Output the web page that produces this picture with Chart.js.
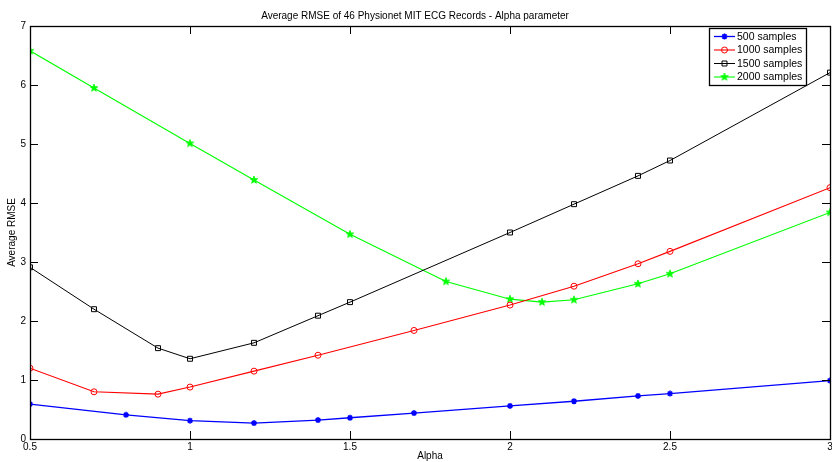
<!DOCTYPE html>
<html>
<head>
<meta charset="utf-8">
<script src="https://cdn.jsdelivr.net/npm/chart.js@4/dist/chart.umd.min.js"></script>
<style>
  html, body { margin: 0; padding: 0; background: #fff; }
  canvas { display: block; }
</style>
</head>
<body>
<canvas id="rmseChart" width="832" height="462"></canvas>
<script>
// values
const alpha500 = [0.5, 0.8, 1.0, 1.2, 1.4, 1.5, 1.7, 2.0, 2.2, 2.4, 2.5, 3.0];
const rmse500 = [0.59, 0.41, 0.31, 0.27, 0.32, 0.36, 0.44, 0.56, 0.64, 0.73, 0.77, 0.99];

const alpha1000 = [0.5, 0.7, 0.9, 1.0, 1.2, 1.4, 1.7, 2.0, 2.2, 2.4, 2.5, 3.0];
const rmse1000 = [1.20, 0.80, 0.76, 0.88, 1.15, 1.42, 1.84, 2.27, 2.59, 2.97, 3.18, 4.26];

const alpha1500 = [0.5, 0.7, 0.9, 1.0, 1.2, 1.4, 1.5, 2.0, 2.2, 2.4, 2.5, 3.0];
const rmse1500 = [2.91, 2.20, 1.54, 1.36, 1.63, 2.09, 2.32, 3.50, 3.98, 4.46, 4.72, 6.21];

const alpha2000 = [0.5, 0.7, 1.0, 1.2, 1.5, 1.8, 2.0, 2.1, 2.2, 2.4, 2.5, 3.0];
const rmse2000 = [6.58, 5.95, 5.01, 4.39, 3.47, 2.67, 2.37, 2.32, 2.36, 2.63, 2.80, 3.84];

const seriesLabels = ['500 samples', '1000 samples', '1500 samples', '2000 samples'];
const xTicks = [0.5, 1, 1.5, 2, 2.5, 3];
const yTicks = [0, 1, 2, 3, 4, 5, 6, 7];

const FONT = 'Liberation Sans, Arial, Helvetica, sans-serif';

// matlab style pentagram marker
function makePentagram(color, r) {
  const size = Math.ceil(r * 2 + 2);
  const c = document.createElement('canvas');
  c.width = size; c.height = size;
  const g = c.getContext('2d');
  const cx = size / 2, cy = size / 2, inner = r * 0.42;
  g.beginPath();
  for (let i = 0; i < 10; i++) {
    const rad = i % 2 === 0 ? r : inner;
    const a = -Math.PI / 2 + i * Math.PI / 5;
    const px = cx + rad * Math.cos(a), py = cy + rad * Math.sin(a);
    if (i === 0) g.moveTo(px, py); else g.lineTo(px, py);
  }
  g.closePath();
  g.fillStyle = color;
  g.fill();
  g.strokeStyle = color;
  g.lineWidth = 0.8;
  g.stroke();
  return c;
}
const pentagram = makePentagram('#00ff00', 4);

function pts(xs, ys) {
  return xs.map((x, i) => ({ x: x, y: ys[i] }));
}

// box round the axes + ticks pointing inward on all four sides
const matlabAxes = {
  id: 'matlabAxes',
  afterDatasetsDraw(chart) {
    const { ctx, chartArea: a, scales } = chart;
    const len = 8;
    ctx.save();
    ctx.strokeStyle = '#000';
    ctx.lineWidth = 1;
    ctx.beginPath();
    xTicks.forEach(v => {
      const px = Math.round(scales.x.getPixelForValue(v)) + 0.5;
      ctx.moveTo(px, a.bottom); ctx.lineTo(px, a.bottom - len);
      ctx.moveTo(px, a.top); ctx.lineTo(px, a.top + len);
    });
    yTicks.forEach(v => {
      const py = Math.round(scales.y.getPixelForValue(v)) + 0.5;
      ctx.moveTo(a.left, py); ctx.lineTo(a.left + len, py);
      ctx.moveTo(a.right, py); ctx.lineTo(a.right - len, py);
    });
    ctx.stroke();
    ctx.lineWidth = 1.3;
    ctx.strokeRect(Math.round(a.left) + 0.5, Math.round(a.top) + 0.5,
      Math.round(a.right - a.left), Math.round(a.bottom - a.top));
    ctx.restore();
  },
  afterDraw(chart) {
    // legend box, matlab look (line with marker in the middle)
    const { ctx, chartArea: a } = chart;
    const bx = a.right - 121, by = a.top + 2, bw = 97, bh = 57;
    ctx.save();
    ctx.fillStyle = '#fff';
    ctx.fillRect(bx, by, bw, bh);
    ctx.strokeStyle = '#000';
    ctx.lineWidth = 1.3;
    ctx.strokeRect(bx + 0.5, by + 0.5, bw, bh);
    ctx.font = '10.5px ' + FONT;
    ctx.textBaseline = 'middle';
    chart.data.datasets.forEach((ds, i) => {
      const y = by + 8.5 + i * 13.5;
      ctx.strokeStyle = ds.borderColor;
      ctx.lineWidth = ds.borderWidth;
      ctx.beginPath();
      ctx.moveTo(bx + 5, y); ctx.lineTo(bx + 26, y);
      ctx.stroke();
      if (ds.pointStyle instanceof HTMLCanvasElement) {
        ctx.drawImage(ds.pointStyle, bx + 15.5 - ds.pointStyle.width / 2, y - ds.pointStyle.height / 2);
      } else {
        ctx.strokeStyle = ds.pointBorderColor;
        ctx.fillStyle = ds.pointBackgroundColor;
        ctx.lineWidth = ds.pointBorderWidth;
        Chart.helpers.drawPoint(ctx, { pointStyle: ds.pointStyle, radius: ds.pointRadius, rotation: 0, borderWidth: ds.pointBorderWidth }, bx + 15.5, y);
      }
      ctx.fillStyle = '#000';
      ctx.fillText(ds.label, bx + 28, y + 0.5);
    });
    ctx.restore();
  }
};

const ctx = document.getElementById('rmseChart');

new Chart(ctx, {
  type: 'line',
  data: {
    datasets: [
      {
        label: seriesLabels[0],
        data: pts(alpha500, rmse500),
        borderColor: '#0000ff',
        borderWidth: 1.3,
        pointStyle: 'star',
        pointRadius: 3,
        pointBorderWidth: 1.5,
        pointBorderColor: '#0000ff',
        pointBackgroundColor: '#0000ff'
      },
      {
        label: seriesLabels[1],
        data: pts(alpha1000, rmse1000),
        borderColor: '#ff0000',
        borderWidth: 1.1,
        pointStyle: 'circle',
        pointRadius: 3,
        pointBorderWidth: 1,
        pointBorderColor: '#ff0000',
        pointBackgroundColor: 'rgba(0,0,0,0)'
      },
      {
        label: seriesLabels[2],
        data: pts(alpha1500, rmse1500),
        borderColor: '#000000',
        borderWidth: 1,
        pointStyle: 'rect',
        pointRadius: 3.5,
        pointBorderWidth: 1,
        pointBorderColor: '#000000',
        pointBackgroundColor: 'rgba(0,0,0,0)'
      },
      {
        label: seriesLabels[3],
        data: pts(alpha2000, rmse2000),
        borderColor: '#00ff00',
        borderWidth: 1.1,
        pointStyle: pentagram,
        pointRadius: 4,
        pointBorderColor: '#00ff00',
        pointBackgroundColor: '#00ff00'
      }
    ]
  },
  options: {
    responsive: false,
    animation: false,
    devicePixelRatio: 1,
    layout: { autoPadding: false, padding: { left: 0, right: 2, top: 0, bottom: 0 } },
    elements: { line: { tension: 0 } },
    plugins: {
      legend: { display: false },
      tooltip: { enabled: false },
      title: {
        display: true,
        text: 'Average RMSE of 46 Physionet MIT ECG Records - Alpha parameter',
        color: '#000',
        font: { family: FONT, size: 10, weight: 'normal' },
        padding: { top: 10, bottom: 4 }
      }
    },
    scales: {
      x: {
        type: 'linear',
        min: 0.5,
        max: 3,
        afterBuildTicks: s => { s.ticks = xTicks.map(v => ({ value: v })); },
        afterFit: s => { s.height = 23; s.paddingLeft = 0; s.paddingRight = 0; },
        grid: { display: false, drawTicks: false },
        border: { display: true, color: '#000', width: 1 },
        ticks: { color: '#000', padding: 2, maxRotation: 0, autoSkip: false, font: { family: FONT, size: 10 }, callback: v => String(v) },
        title: { display: true, text: 'Alpha', color: '#000', font: { family: FONT, size: 10 }, padding: { top: 0, bottom: 0 } }
      },
      y: {
        type: 'linear',
        min: 0,
        max: 7,
        afterBuildTicks: s => { s.ticks = yTicks.map(v => ({ value: v })); },
        afterFit: s => { s.width = 30; },
        grid: { display: false, drawTicks: false },
        border: { display: true, color: '#000', width: 1 },
        ticks: { color: '#000', padding: 4, autoSkip: false, font: { family: FONT, size: 10 }, callback: v => String(v) },
        title: { display: true, text: 'Average RMSE', color: '#000', font: { family: FONT, size: 10 }, padding: { top: 6, bottom: 0 } }
      }
    }
  },
  plugins: [matlabAxes]
});
</script>
</body>
</html>
